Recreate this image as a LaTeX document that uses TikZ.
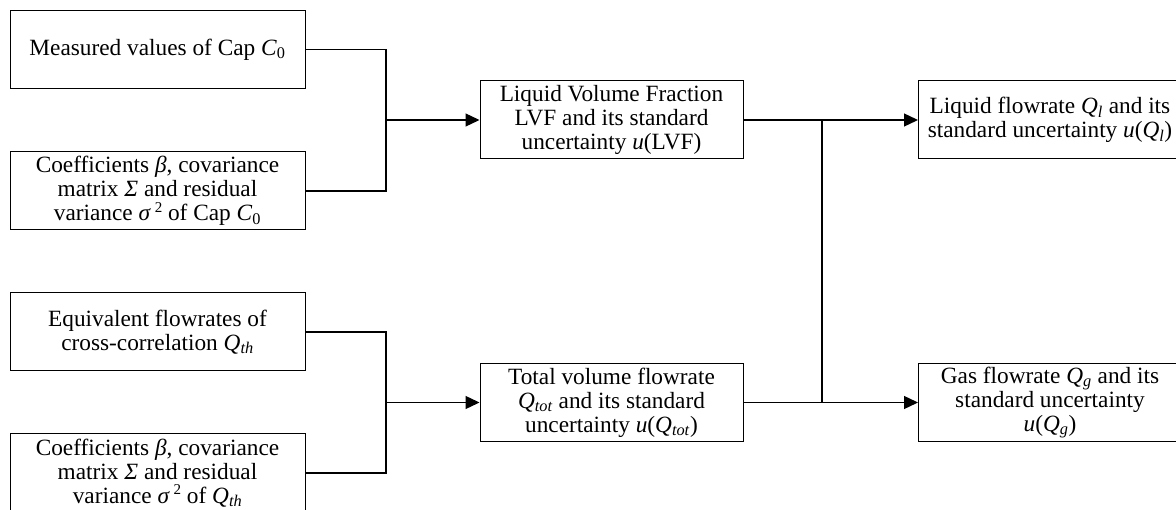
\documentclass[tikz,border=0pt]{standalone}
\usepackage{fontspec}
\setmainfont{Liberation Serif}
\usetikzlibrary{arrows.meta}
\newcommand{\sqsup}[1]{\raisebox{0.8ex}{\fontsize{15}{15}\selectfont #1}}
\begin{document}
\begin{tikzpicture}[x=1pt,y=-1pt,
  box/.style={draw, line width=1pt, minimum width=#1, minimum height=78pt, inner sep=0pt, align=center, font=\fontsize{23.3}{24}\selectfont},
  box/.default=295pt,
  conn/.style={line width=1.3pt},
  arr/.style={line width=1.3pt, -{Triangle[length=14pt,width=13pt]}}
]
\useasboundingbox (0,0) rectangle (1176,510);
\node[box] (A) at (157.5,49.5) {Measured values of Cap \textit{C}\textsubscript{0}};
\node[box] (B) at (157.5,191) {Coefficients \textit{β}, covariance\\matrix \textit{Σ} and residual\\variance \textit{σ}\,\sqsup{2} of Cap \textit{C}\textsubscript{0}};
\node[box] (C) at (157.5,332) {Equivalent flowrates of\\cross-correlation \textit{Q}\textsubscript{\textit{th}}};
\node[box] (D) at (157.5,473) {Coefficients \textit{β}, covariance\\matrix \textit{Σ} and residual\\variance \textit{σ}\,\sqsup{2} of \textit{Q}\textsubscript{\textit{th}}};
\node[box=263pt] (lvf) at (611.5,120) {Liquid Volume Fraction\\LVF and its standard\\uncertainty \textit{u}(LVF)};
\node[box=263pt] (tot) at (611.5,402.5) {Total volume flowrate\\\textit{Q}\textsubscript{\textit{tot}} and its standard\\uncertainty \textit{u}(\textit{Q}\textsubscript{\textit{tot}})};
\node[box=263pt] (liq) at (1050,120) {Liquid flowrate \textit{Q}\textsubscript{\textit{l}} and its\\standard uncertainty \textit{u}(\textit{Q}\textsubscript{\textit{l}})};
\node[box=263pt] (gas) at (1050,402.5) {Gas flowrate \textit{Q}\textsubscript{\textit{g}} and its\\standard uncertainty\\\textit{u}(\textit{Q}\textsubscript{\textit{g}})};
\coordinate (j1) at (386,120);
\coordinate (j2) at (386,402.5);
\coordinate (r1) at (822,120);
\coordinate (r2) at (822,402.5);
\draw[conn] (A.east) -| (j1);
\draw[conn] (B.east) -| (j1);
\draw[arr] (j1) -- (lvf.west);
\draw[conn] (C.east) -| (j2);
\draw[conn] (D.east) -| (j2);
\draw[arr] (j2) -- (tot.west);
\draw[arr] (lvf.east) -- (liq.west);
\draw[arr] (tot.east) -- (gas.west);
\draw[conn] (r1) -- (r2);
\end{tikzpicture}
\end{document}
